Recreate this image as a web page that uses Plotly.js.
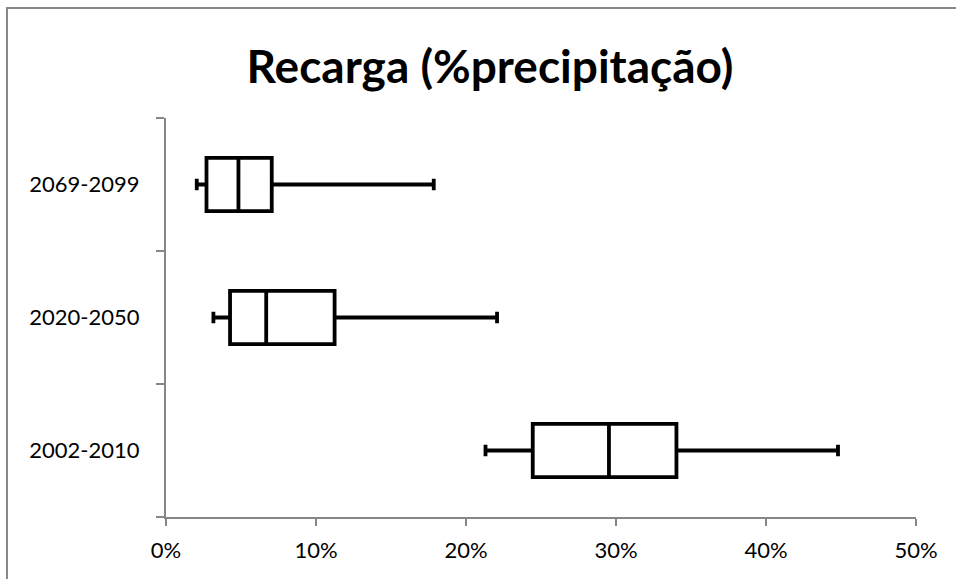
<!DOCTYPE html>
<html>
<head>
<meta charset="utf-8">
<script src="https://cdn.plot.ly/plotly-3.0.1.min.js"></script>
<style>
html,body{margin:0;padding:0;background:#fff;}
#wrap{position:relative;width:956px;height:579px;overflow:hidden;}
#chart{position:absolute;left:0;top:0;width:956px;height:579px;}
#frame{position:absolute;left:6px;top:7px;width:980px;height:600px;border-left:2px solid #888;border-top:2px solid #888;pointer-events:none;}
</style>
</head>
<body>
<div id="wrap"><div id="chart"></div><div id="frame"></div></div>
<script>
const periods = ['2002-2010', '2020-2050', '2069-2099'];
const lowerWhisker = [0.213, 0.0316, 0.0205];
const q1Values = [0.2445, 0.0427, 0.027];
const medianValues = [0.2953, 0.0668, 0.0483];
const q3Values = [0.3403, 0.1124, 0.0705];
const upperWhisker = [0.448, 0.2207, 0.1785];
const xTickValues = [0, 0.1, 0.2, 0.3, 0.4, 0.5];
const xTickLabels = ['0%', '10%', '20%', '30%', '40%', '50%'];

const trace = {
  type: 'box',
  orientation: 'h',
  y: periods,
  q1: q1Values,
  median: medianValues,
  q3: q3Values,
  lowerfence: lowerWhisker,
  upperfence: upperWhisker,
  fillcolor: 'rgba(255,255,255,0)',
  line: {color: '#000000', width: 3.8},
  whiskerwidth: 0.22,
  width: 0.4,
  boxpoints: false,
  hoverinfo: 'skip',
  showlegend: false
};

const layout = {
  width: 956, height: 579,
  paper_bgcolor: '#ffffff', plot_bgcolor: '#ffffff',
  margin: {l: 166, r: 40, t: 118, b: 62},
  font: {family: 'Lato, "Open Sans", sans-serif', color: '#000'},
  title: {text: '<b>Recarga (%precipitação)</b>', x: 0.5125, xref: 'container', xanchor: 'center',
          y: 0.885, yref: 'container', yanchor: 'middle',
          font: {family: 'Lato, sans-serif', size: 46, color: '#000'}},
  xaxis: {
    range: [0, 0.5], tickvals: xTickValues, ticktext: xTickLabels,
    showgrid: false, zeroline: false, showline: true, linecolor: '#868686', linewidth: 2,
    ticks: 'outside', ticklen: 7, tickwidth: 2, tickcolor: '#868686', ticklabelstandoff: 6,
    tickfont: {size: 22, family: 'Lato, sans-serif', color: '#000'}, fixedrange: true
  },
  yaxis: {
    type: 'category', categoryorder: 'array', categoryarray: periods, range: [-0.5, 2.5],
    showgrid: false, zeroline: false, showline: true, linecolor: '#868686', linewidth: 2,
    ticks: 'outside', ticklen: 8, tickwidth: 2, tickcolor: '#868686', tickson: 'boundaries',
    ticklabelstandoff: 20,
    tickfont: {size: 22, family: 'Lato, sans-serif', color: '#000'}, fixedrange: true
  }
};

Plotly.newPlot('chart', [trace], layout, {staticPlot: true, displayModeBar: false});
</script>
</body>
</html>
